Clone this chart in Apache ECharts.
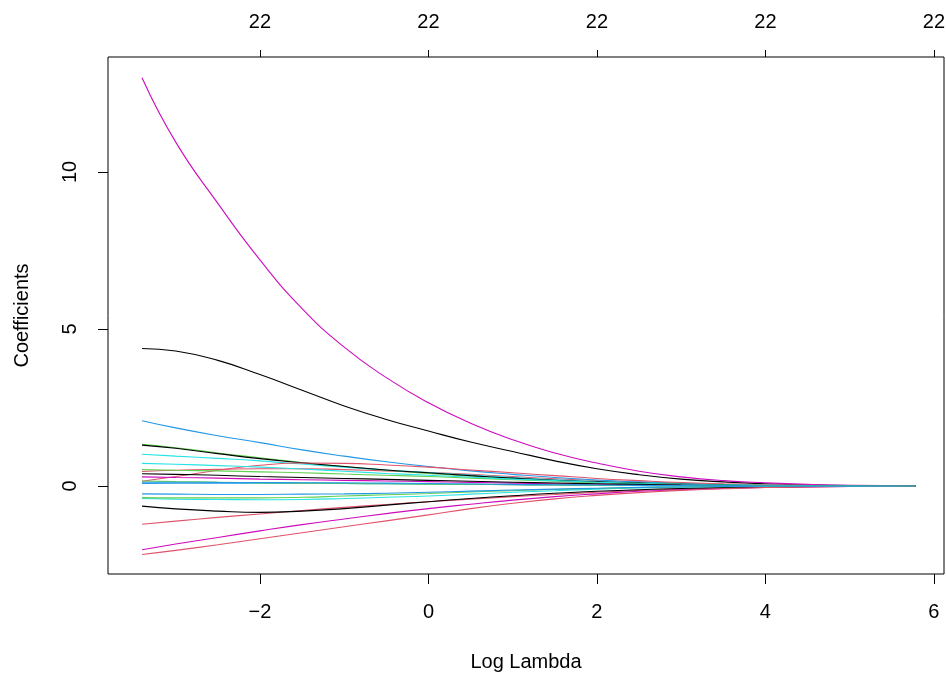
<!DOCTYPE html>
<html>
<head>
<meta charset="utf-8">
<script src="https://cdn.jsdelivr.net/npm/echarts@6/dist/echarts.min.js"></script>
<style>
html,body{margin:0;padding:0;background:#fff;}
#chart{width:946px;height:673px;}
</style>
</head>
<body>
<div id="chart"></div>
<script>
// Log lambda sample points
const logLambda = [-3.4, -3, -2.5, -2, -1.5, -1, -0.5, 0, 0.5, 1, 1.5, 2, 2.5, 3, 3.5, 4, 4.5, 5, 5.78];
// Axis ticks / labels
const xTicks = [-2, 0, 2, 4, 6];
const yTicks = [0, 5, 10];
const topLabel = '22';

// Coefficient paths, one per variable
const v1  = [4.38, 4.3, 4.0, 3.55, 3.05, 2.55, 2.12, 1.75, 1.4, 1.1, 0.8, 0.55, 0.36, 0.22, 0.13, 0.07, 0.035, 0.015, 0.004];
const v2  = [0.46, 0.5, 0.53, 0.55, 0.55, 0.52, 0.48, 0.43, 0.37, 0.3, 0.23, 0.17, 0.12, 0.08, 0.05, 0.03, 0.018, 0.01, 0.002];
const v3  = [1.33, 1.22, 1.05, 0.9, 0.75, 0.62, 0.5, 0.4, 0.31, 0.24, 0.17, 0.12, 0.08, 0.05, 0.03, 0.02, 0.011, 0.006, 0.001];
const v4  = [2.08, 1.85, 1.6, 1.38, 1.15, 0.95, 0.77, 0.62, 0.48, 0.37, 0.27, 0.19, 0.13, 0.08, 0.05, 0.03, 0.015, 0.006, 0.002];
const v5  = [1.01, 0.95, 0.88, 0.8, 0.7, 0.6, 0.51, 0.43, 0.35, 0.27, 0.2, 0.15, 0.1, 0.07, 0.045, 0.03, 0.018, 0.01, 0.002];
const v6  = [13.0, 10.95, 9.0, 7.2, 5.65, 4.42, 3.45, 2.65, 2.0, 1.47, 1.05, 0.73, 0.47, 0.29, 0.17, 0.1, 0.05, 0.02, 0.005];
const v7  = [1.30, 1.2, 1.03, 0.87, 0.74, 0.62, 0.51, 0.42, 0.33, 0.25, 0.18, 0.13, 0.09, 0.06, 0.04, 0.025, 0.015, 0.008, 0.002];
const v8  = [0.15, 0.3, 0.5, 0.66, 0.73, 0.72, 0.67, 0.6, 0.51, 0.42, 0.33, 0.24, 0.17, 0.11, 0.07, 0.04, 0.022, 0.012, 0.003];
const v9  = [0.52, 0.5, 0.48, 0.45, 0.42, 0.38, 0.34, 0.3, 0.25, 0.2, 0.15, 0.11, 0.08, 0.05, 0.033, 0.02, 0.011, 0.006, 0.001];
const v10 = [0.08, 0.085, 0.088, 0.09, 0.088, 0.08, 0.07, 0.06, 0.05, 0.04, 0.03, 0.02, 0.014, 0.01, 0.006, 0.004, 0.002, 0.001, 0];
const v11 = [0.72, 0.69, 0.65, 0.6, 0.54, 0.47, 0.4, 0.34, 0.28, 0.22, 0.17, 0.12, 0.08, 0.055, 0.035, 0.02, 0.011, 0.006, 0.001];
const v12 = [0.29, 0.27, 0.25, 0.22, 0.2, 0.18, 0.16, 0.14, 0.115, 0.09, 0.07, 0.05, 0.033, 0.02, 0.013, 0.008, 0.004, 0.002, 0];
const v13 = [0.39, 0.37, 0.34, 0.3, 0.27, 0.24, 0.21, 0.18, 0.15, 0.12, 0.095, 0.07, 0.05, 0.03, 0.02, 0.012, 0.007, 0.004, 0.001];
const v14 = [-1.22, -1.12, -1.0, -0.89, -0.78, -0.68, -0.59, -0.5, -0.42, -0.34, -0.27, -0.2, -0.14, -0.1, -0.065, -0.04, -0.022, -0.01, -0.002];
const v15 = [0.16, 0.14, 0.12, 0.1, 0.09, 0.08, 0.07, 0.06, 0.05, 0.04, 0.03, 0.02, 0.014, 0.01, 0.006, 0.004, 0.002, 0.001, 0];
const v16 = [0.12, 0.12, 0.115, 0.11, 0.105, 0.1, 0.09, 0.08, 0.065, 0.05, 0.04, 0.03, 0.02, 0.012, 0.008, 0.005, 0.002, 0.001, 0];
const v17 = [-0.40, -0.42, -0.43, -0.44, -0.43, -0.40, -0.36, -0.32, -0.26, -0.2, -0.15, -0.1, -0.065, -0.04, -0.025, -0.015, -0.008, -0.004, -0.001];
const v18 = [-2.03, -1.85, -1.64, -1.43, -1.23, -1.05, -0.88, -0.72, -0.58, -0.45, -0.34, -0.25, -0.17, -0.12, -0.08, -0.05, -0.03, -0.015, -0.003];
const v19 = [-0.64, -0.73, -0.8, -0.84, -0.8, -0.72, -0.61, -0.5, -0.4, -0.31, -0.23, -0.17, -0.12, -0.08, -0.05, -0.03, -0.016, -0.008, -0.002];
const v20 = [-2.18, -2.05, -1.87, -1.68, -1.49, -1.3, -1.11, -0.92, -0.72, -0.55, -0.41, -0.3, -0.21, -0.14, -0.09, -0.05, -0.03, -0.015, -0.003];
const v21 = [-0.37, -0.38, -0.38, -0.38, -0.36, -0.32, -0.28, -0.24, -0.19, -0.15, -0.11, -0.08, -0.05, -0.03, -0.02, -0.012, -0.006, -0.003, -0.001];
const v22 = [-0.25, -0.26, -0.27, -0.27, -0.26, -0.25, -0.23, -0.2, -0.165, -0.13, -0.1, -0.07, -0.045, -0.03, -0.018, -0.01, -0.006, -0.003, -0.001];

const paths = [v1, v2, v3, v4, v5, v6, v7, v8, v9, v10, v11, v12, v13, v14, v15, v16, v17, v18, v19, v20, v21, v22];
const palette = ['#000000', '#DF536B', '#61D04F', '#2297E6', '#28E2E5', '#CD0BBC'];

const FONT = 'Liberation Sans, Arial, Helvetica, sans-serif';
const FS = 20;

const series = paths.map((p, i) => ({
  type: 'line',
  xAxisIndex: 0,
  yAxisIndex: 0,
  data: p.map((v, j) => [logLambda[j], v]),
  showSymbol: false,
  symbol: 'none',
  smooth: 0.5,
  silent: true,
  lineStyle: { color: palette[i % 6], width: 1.1 },
  emphasis: { disabled: true },
  animation: false
}));

const chart = echarts.init(document.getElementById('chart'), null, { renderer: 'canvas' });
chart.setOption({
  animation: false,
  backgroundColor: '#fff',
  textStyle: { fontFamily: FONT },
  grid: {
    left: 108, right: 2, top: 57, bottom: 99,
    show: true, borderColor: '#000', borderWidth: 1, backgroundColor: 'transparent',
    containLabel: false,
    outerBoundsMode: 'none'
  },
  xAxis: [
    {
      type: 'value', position: 'bottom', min: -3.804, max: 6.12,
      splitLine: { show: false },
      axisLine: { show: false, onZero: false },
      axisTick: { show: true, length: 10, customValues: xTicks, lineStyle: { color: '#000', width: 1 } },
      axisLabel: {
        customValues: xTicks, margin: 28, fontSize: FS, color: '#000', fontFamily: FONT,
        formatter: v => (v < 0 ? '\u2212' + Math.abs(v) : String(v))
      },
      name: 'Log Lambda', nameLocation: 'middle', nameGap: 78,
      nameTextStyle: { fontSize: FS, color: '#000', fontFamily: FONT }
    },
    {
      type: 'value', position: 'top', min: -3.804, max: 6.12,
      splitLine: { show: false },
      axisLine: { show: false, onZero: false },
      axisTick: { show: true, length: 7, customValues: xTicks, lineStyle: { color: '#000', width: 1 } },
      axisLabel: {
        customValues: xTicks, margin: 25, fontSize: FS, color: '#000', fontFamily: FONT,
        formatter: () => topLabel
      }
    }
  ],
  yAxis: [{
    type: 'value', min: -2.803, max: 13.662,
    splitLine: { show: false },
    axisLine: { show: false, onZero: false },
    axisTick: { show: true, length: 10, customValues: yTicks, lineStyle: { color: '#000', width: 1 } },
    axisLabel: {
      customValues: yTicks, margin: 28, fontSize: FS, color: '#000', rotate: 90, fontFamily: FONT
    },
    name: 'Coefficients', nameLocation: 'middle', nameGap: 76, nameRotate: 90,
    nameTextStyle: { fontSize: FS, color: '#000', fontFamily: FONT }
  }],
  series: series
});
</script>
</body>
</html>
